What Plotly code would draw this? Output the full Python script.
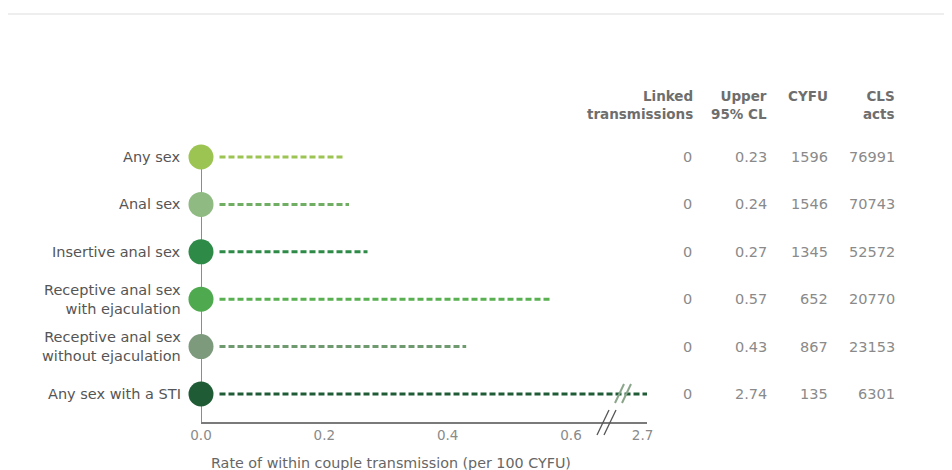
import plotly.graph_objects as go

categories = ["Any sex", "Anal sex", "Insertive anal sex",
              "Receptive anal sex<br>with ejaculation",
              "Receptive anal sex<br>without ejaculation",
              "Any sex with a STI"]
linked = [0, 0, 0, 0, 0, 0]
upper_cl = [0.23, 0.24, 0.27, 0.57, 0.43, 2.74]
cyfu = [1596, 1546, 1345, 652, 867, 135]
cls_acts = [76991, 70743, 52572, 20770, 23153, 6301]
tick_values = [0.0, 0.2, 0.4, 0.6, 2.7]
tick_labels = ["0.0", "0.2", "0.4", "0.6", "2.7"]

colors = ["#9cc452", "#8fba82", "#2d8a47", "#4faa4f", "#7d9a7d", "#1f5c36"]
line_colors = ["#9cc452", "#6fae63", "#2d8a47", "#58b050", "#6f9a6f", "#1f5c36"]

# broken axis: values above the break are compressed
BREAK_LO, BREAK_HI, BREAK_POS, HI_SCALE = 0.65, 2.7, 0.716, 0.18


def disp(v):
    if v <= BREAK_LO:
        return v
    return BREAK_POS + (v - BREAK_HI) * HI_SCALE


XMAX = disp(2.74)
OFF = 8  # page body margin
L, R_PX, T, B = 201, 647, 129, 422   # plot area in reference pixels
W, H = 952 - OFF, 470 - OFF
rows = list(range(len(categories)))
YR = [5.59, -0.59]
FONT = "DejaVu Sans, Verdana, sans-serif"

fig = go.Figure()

# vertical baseline from first dot to axis
fig.add_trace(go.Scatter(x=[0, 0], y=[0, YR[0]], mode="lines",
                         line=dict(color="#8c8c8c", width=2),
                         hoverinfo="skip", showlegend=False, cliponaxis=False))

for i, v in enumerate(upper_cl):
    fig.add_trace(go.Scatter(x=[0.03, disp(v)], y=[i, i], mode="lines",
                             line=dict(color=line_colors[i], width=3, dash="6px,3px"),
                             hoverinfo="skip", showlegend=False, cliponaxis=False))

fig.add_trace(go.Scatter(x=[0] * len(rows), y=rows, mode="markers",
                         marker=dict(size=25, color=colors, line=dict(width=0)),
                         hoverinfo="skip", showlegend=False, cliponaxis=False))


def px_to_paper_x(px):
    return (px - L) / (R_PX - L)


def px_to_paper_y(py):
    return (B - py) / (B - T)


anns = []
font_lbl = dict(family=FONT, size=14.5, color="#555555")
font_val = dict(family=FONT, size=14.5, color="#8a8a8a")
font_hdr = dict(family=FONT, size=13.5, color="#6e6e6e")

for i, c in enumerate(categories):
    anns.append(dict(x=px_to_paper_x(183), xref="paper", y=i, yref="y", text=c,
                     xanchor="right", yanchor="middle", align="right",
                     showarrow=False, font=font_lbl))
    anns.append(dict(x=px_to_paper_x(687), xref="paper", y=i, yref="y", text=str(linked[i]),
                     xanchor="center", yanchor="middle", showarrow=False, font=font_val))
    anns.append(dict(x=px_to_paper_x(769), xref="paper", y=i, yref="y", text=f"{upper_cl[i]:.2f}",
                     xanchor="right", yanchor="middle", showarrow=False, font=font_val))
    anns.append(dict(x=px_to_paper_x(830), xref="paper", y=i, yref="y", text=str(cyfu[i]),
                     xanchor="right", yanchor="middle", showarrow=False, font=font_val))
    anns.append(dict(x=px_to_paper_x(897), xref="paper", y=i, yref="y", text=str(cls_acts[i]),
                     xanchor="right", yanchor="middle", showarrow=False, font=font_val))

headers = [(695, "<b>Linked</b><br><b>transmissions</b>"),
           (769, "<b>Upper</b><br><b>95% CL</b>"),
           (830, "<b>CYFU</b><br> "),
           (897, "<b>CLS</b><br><b>acts</b>")]
for px, t in headers:
    anns.append(dict(x=px_to_paper_x(px), xref="paper", y=px_to_paper_y(105), yref="paper",
                     text=t, xanchor="right", yanchor="middle", align="right",
                     showarrow=False, font=font_hdr))

anns.append(dict(x=px_to_paper_x(391), xref="paper", y=px_to_paper_y(463), yref="paper",
                 text="Rate of within couple transmission (per 100 CYFU)",
                 xanchor="center", yanchor="middle", showarrow=False,
                 font=dict(family=FONT, size=14.3, color="#666666")))


def xd(px):
    return (px - L) / (R_PX - L) * XMAX


def yd(py):
    return (py - 157) / 47.4


shapes = [
    dict(type="line", xref="paper", yref="paper",
         x0=px_to_paper_x(5), x1=px_to_paper_x(952),
         y0=px_to_paper_y(14), y1=px_to_paper_y(14), line=dict(color="#dddddd", width=1)),
]
# axis break marks
for dx in (0, 7):
    shapes.append(dict(type="line", xref="paper", yref="paper",
                       x0=px_to_paper_x(597 + dx), y0=px_to_paper_y(435),
                       x1=px_to_paper_x(609 + dx), y1=px_to_paper_y(410),
                       line=dict(color="#555555", width=1.3)))
    shapes.append(dict(type="line", xref="paper", yref="paper",
                       x0=px_to_paper_x(615 + dx), y0=px_to_paper_y(403),
                       x1=px_to_paper_x(624 + dx), y1=px_to_paper_y(384),
                       line=dict(color="#8aa58a", width=2)))

fig.update_layout(
    width=W, height=H,
    margin=dict(l=L - OFF, r=W - (R_PX - OFF), t=T - OFF, b=H - (B - OFF), pad=0),
    paper_bgcolor="white", plot_bgcolor="white",
    showlegend=False,
    annotations=anns, shapes=shapes,
    xaxis=dict(range=[0, XMAX], tickvals=[disp(v) for v in tick_values], ticktext=tick_labels,
               showgrid=False, zeroline=False, showline=True, linecolor="#7a7a7a", linewidth=1.5,
               ticks="", ticklen=0, tickfont=dict(family=FONT, size=13.5, color="#8a8a8a"),
               fixedrange=True),
    yaxis=dict(range=YR, showticklabels=False, showgrid=False, zeroline=False,
               showline=False, ticks="", fixedrange=True),
)

fig.write_html("out.html")
